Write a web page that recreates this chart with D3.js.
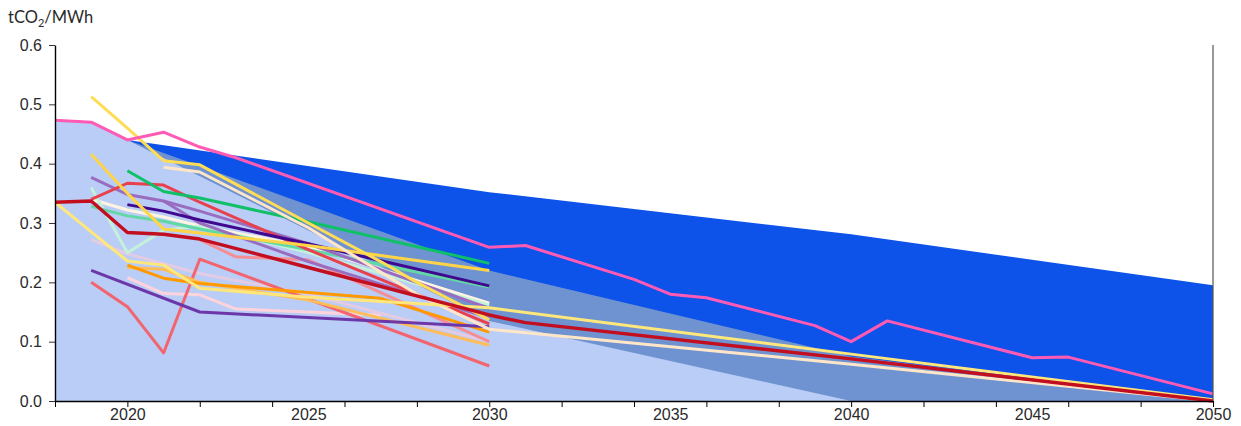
<!DOCTYPE html>
<html>
<head>
<meta charset="utf-8">
<script src="https://cdn.jsdelivr.net/npm/d3@7"></script>
<style>
  html, body { margin: 0; padding: 0; background: #fff; }
  svg { display: block; font-family: Lato, "Noto Sans", sans-serif; }
  .axis text { font-size: 16px; fill: #2a2a2a; }
</style>
</head>
<body>
<svg id="chart" width="1241" height="426"></svg>
<script>
// Emission-intensity pathways of the power sector, tCO2/MWh

// Corridor bands (year, value)
const bandDark   = [[2020, 0.440], [2030, 0.352], [2040, 0.281], [2050, 0.195]];
const bandMedium = [[2020, 0.440], [2030, 0.220], [2040, 0.075], [2050, 0.000]];
const bandLight  = [[2018, 0.473], [2019, 0.470], [2020, 0.440], [2030, 0.135], [2040, 0.000], [2050, 0.000]];

// Individual pathways (year, value)
const pink        = [[2018,.473],[2019,.470],[2020,.440],[2021,.453],[2022,.428],[2023,.410],[2030,.259],[2031,.262],[2034,.205],[2035,.180],[2036,.174],[2039,.127],[2040,.100],[2041,.135],[2045,.073],[2046,.074],[2050,.012]];
const goldA       = [[2019,.513],[2020,.460],[2021,.405],[2022,.398],[2025,.300],[2027,.235],[2028,.200],[2030,.137]];
const goldB       = [[2019,.416],[2020,.350],[2021,.290],[2022,.283],[2025,.262],[2030,.220]];
const cream       = [[2021,.394],[2022,.386],[2025,.292],[2028,.180],[2030,.121],[2040,.062],[2050,.000]];
const green       = [[2020,.388],[2021,.353],[2022,.342],[2025,.302],[2030,.232]];
const redMid      = [[2019,.340],[2020,.367],[2021,.364],[2022,.335],[2025,.255],[2030,.130]];
const lavenderA   = [[2019,.377],[2020,.348],[2021,.337],[2022,.320],[2025,.265],[2030,.156]];
const lavenderB   = [[2021,.337],[2022,.300],[2025,.235],[2030,.140]];
const indigo      = [[2020,.331],[2021,.320],[2022,.305],[2025,.265],[2030,.194]];
const mint        = [[2019,.328],[2020,.312],[2021,.303],[2022,.290],[2025,.255],[2030,.192]];
const paleMint    = [[2019,.360],[2020,.250],[2021,.288],[2022,.295],[2025,.250],[2030,.162]];
const whiteLine   = [[2019,.340],[2020,.322],[2021,.310],[2022,.295],[2025,.260],[2030,.165]];
const paleLilac   = [[2019,.272],[2020,.248],[2022,.215],[2025,.180],[2030,.100]];
const lightRed    = [[2022,.272],[2023,.243],[2025,.238],[2030,.100]];
const orange      = [[2020,.229],[2021,.207],[2022,.198],[2025,.183],[2027,.173],[2030,.116]];
const lightOrange = [[2020,.225],[2021,.222],[2022,.200],[2025,.170],[2030,.094]];
const lightPink   = [[2020,.208],[2021,.181],[2022,.179],[2023,.155],[2027,.145]];
const rebecca     = [[2019,.220],[2022,.150],[2030,.125]];
const salmon      = [[2019,.200],[2020,.159],[2021,.081],[2022,.239],[2030,.059]];
const paleYellow  = [[2018,.335],[2019,.285],[2020,.236],[2021,.229],[2022,.190],[2025,.175],[2030,.157],[2040,.079],[2050,.002]];
const darkRed     = [[2018,.335],[2019,.337],[2020,.284],[2021,.281],[2022,.273],[2025,.225],[2030,.145],[2031,.132],[2040,.071],[2050,.000]];

// Axis ticks
const yTicks = [0, 0.1, 0.2, 0.3, 0.4, 0.5, 0.6];
const xTickMarks = d3.range(2018, 2051, 2);
const xTickLabels = [2020, 2025, 2030, 2035, 2040, 2045, 2050];

// Drawing order and colours of the pathways
const series = [
  { data: lightPink,   color: "#ffd3db" },
  { data: paleLilac,   color: "#e4cbe4" },
  { data: salmon,      color: "#f2646e" },
  { data: lightRed,    color: "#f58d95" },
  { data: lightOrange, color: "#ffbd59" },
  { data: orange,      color: "#ff9900" },
  { data: rebecca,     color: "#6c37a8" },
  { data: whiteLine,   color: "#fff4e2" },
  { data: paleMint,    color: "#c4f1da" },
  { data: mint,        color: "#62d8a4" },
  { data: lavenderB,   color: "#9a6cc0" },
  { data: lavenderA,   color: "#9a6cc0" },
  { data: redMid,      color: "#e8404c" },
  { data: indigo,      color: "#40088f" },
  { data: green,       color: "#10c068" },
  { data: goldB,       color: "#ffd447" },
  { data: cream,       color: "#ffe6c8" },
  { data: goldA,       color: "#ffdc55" },
  { data: paleYellow,  color: "#ffe77c" },
  { data: darkRed,     color: "#c20e1e", width: 3.4 },
  { data: pink,        color: "#ff5ab4" }
];

const svg = d3.select("#chart");
const margin = { left: 55, right: 28, top: 45, bottom: 25 };
const W = 1241, H = 426;

const x = d3.scaleLinear().domain([2018, 2050]).range([margin.left, W - margin.right]);
const y = d3.scaleLinear().domain([0, 0.6]).range([H - margin.bottom, margin.top]);

const area = d3.area().x(d => x(d[0])).y0(y(0)).y1(d => y(d[1]));

// Bands: dark corridor, medium, light
svg.append("path").datum(bandDark).attr("d", area).attr("fill", "#0d52e9");
svg.append("path").datum(bandMedium).attr("d", area).attr("fill", "#6f93d0");
svg.append("path").datum(bandLight).attr("d", area).attr("fill", "#b9cdf6");

// Pathway lines
const line = d3.line().x(d => x(d[0])).y(d => y(d[1]));
svg.append("g").selectAll("path").data(series).join("path")
  .attr("d", d => line(d.data))
  .attr("fill", "none")
  .attr("stroke", d => d.color)
  .attr("stroke-width", d => d.width || 3)
  .attr("stroke-linejoin", "round");

// Right-hand frame line
svg.append("line")
  .attr("x1", x(2050)).attr("x2", x(2050))
  .attr("y1", y(0.6)).attr("y2", y(0))
  .attr("stroke", "#555").attr("stroke-width", 1.2);

// Y axis
const yAxis = svg.append("g").attr("class", "axis")
  .attr("transform", `translate(${margin.left},0)`)
  .call(d3.axisLeft(y).tickValues(yTicks).tickFormat(d3.format(".1f")).tickSize(6).tickPadding(7).tickSizeOuter(0));
yAxis.select(".domain").attr("stroke", "#000").attr("stroke-width", 1.4);
yAxis.selectAll(".tick line").attr("stroke", "#333");

// X axis: tick marks every two years, labels every five
const xAxis = svg.append("g").attr("class", "axis")
  .attr("transform", `translate(0,${y(0)})`)
  .call(d3.axisBottom(x).tickValues(xTickMarks).tickFormat("").tickSize(6).tickSizeOuter(0));
xAxis.select(".domain").attr("stroke", "#000").attr("stroke-width", 1.4);
xAxis.selectAll(".tick line").attr("stroke", "#000");

const xLab = svg.append("g").attr("class", "axis")
  .attr("transform", `translate(0,${y(0)})`)
  .call(d3.axisBottom(x).tickValues(xTickLabels).tickFormat(d3.format("d")).tickSize(0).tickPadding(8));
xLab.select(".domain").remove();

// Unit label
const unit = svg.append("text").attr("x", 8).attr("y", 23)
  .attr("font-size", 16.5).attr("fill", "#2a2a2a");
unit.append("tspan").text("tCO");
unit.append("tspan").text("2").attr("font-size", 11).attr("dy", 4);
unit.append("tspan").text("/MWh").attr("dy", -4);
</script>
</body>
</html>
